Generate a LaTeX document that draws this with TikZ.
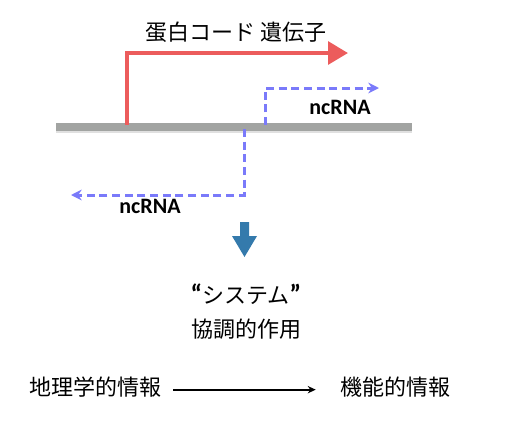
\documentclass[tikz,border=0pt]{standalone}
\usepackage{fontspec}
\setmainfont{Noto Sans CJK JP}
\newfontfamily\latinfont{Carlito}
\usetikzlibrary{arrows.meta,positioning}
\definecolor{genered}{RGB}{236,92,92}
\definecolor{rnablue}{RGB}{122,122,250}
\definecolor{dnagray}{RGB}{162,164,162}
\definecolor{fatblue}{RGB}{52,122,172}
\newcommand{\bigquote}[1]{{\latinfont\bfseries\fontsize{20}{20}\selectfont #1}}

\begin{document}
\begin{tikzpicture}[x=0.75pt,y=-0.75pt,
    every node/.style={font=\fontsize{16.5}{20}\selectfont,inner sep=0pt},
    rna/.style={font=\fontsize{16.5}{20}\selectfont\latinfont\bfseries},
    gene/.style={draw=genered,line width=3pt,-{Triangle[length=15pt,width=17pt]}},
    ncrna/.style={draw=rnablue,line width=2.25pt,dash pattern=on 6pt off 3.5pt,
      -{Stealth[length=8pt,width=8pt]}},
    flow/.style={line width=1.4pt,-{Stealth[length=6pt,width=5.5pt]}}]
  \useasboundingbox (0,0) rectangle (514,443);
  % strand
  \coordinate (dnaL) at (56,127);
  \coordinate (dnaR) at (412,127);
  \draw[black!12,line width=6pt] ([yshift=-1.2pt]dnaL) -- ([yshift=-1.2pt]dnaR);
  \draw[dnagray,line width=6pt] (dnaL) -- (dnaR);
  % transcripts
  \coordinate (geneS) at (127,125);
  \coordinate (geneE) at (348,53);
  \draw[gene] (geneS) |- (geneE);
  \coordinate (rnaA) at (265,125);
  \coordinate (rnaAE) at (379,88);
  \draw[ncrna] (rnaA) |- (rnaAE);
  \coordinate (rnaB) at (244,129);
  \coordinate (rnaBE) at (71,195);
  \draw[ncrna] (rnaB) |- (rnaBE);
  \node (title) at (236,32) {蛋白コード 遺伝子};
  \node[rna] (ncrnaA) at (340,107) {ncRNA};
  \node[rna] (ncrnaB) at (150,206) {ncRNA};
  % fat arrow
  \fill[fatblue] (240,222) -- (249,222) -- (249,236) -- (257,236) -- (244.5,257)
    -- (232,236) -- (240,236) -- cycle;
  \node (system) at (246,294) {\bigquote{“}システム\bigquote{”}};
  \node (coop) at (246,329) {協調的作用};
  \node (geo) at (95,387) {地理学的情報};
  \node (func) at (395,387) {機能的情報};
  \draw[flow,shorten <=9pt,shorten >=18pt] ([yshift=-2pt]geo.east) -- ([yshift=-2pt]func.west);
\end{tikzpicture}
\end{document}
